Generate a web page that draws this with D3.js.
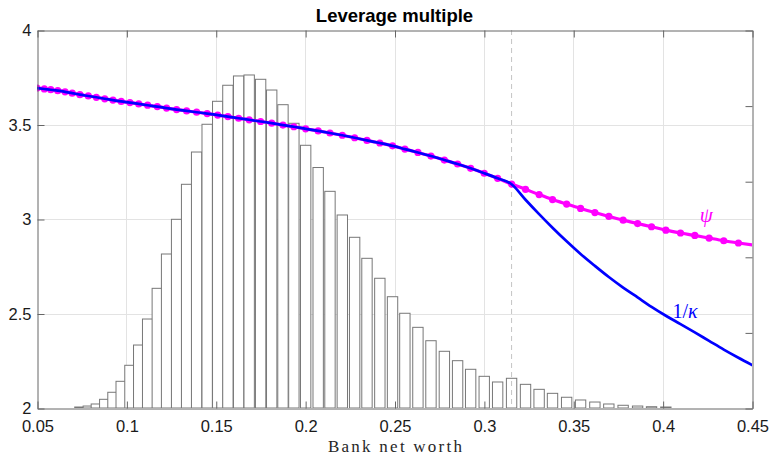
<!DOCTYPE html>
<html>
<head>
<meta charset="utf-8">
<script src="https://cdn.jsdelivr.net/npm/d3@7"></script>
<style>
  body { margin: 0; background: #fff; }
  svg { display: block; }
</style>
</head>
<body>
<svg id="view" width="771" height="456"></svg>
<script>
// grid of bank net worth values (the solution grid, non uniform)
var grid = [0.0500, 0.0541, 0.0577, 0.0616, 0.0657, 0.0697, 0.0740, 0.0787, 0.0832, 0.0879,
	0.0925, 0.0971, 0.1020, 0.1069, 0.1119, 0.1173, 0.1225, 0.1281, 0.1337, 0.1393,
	0.1452, 0.1511, 0.1568, 0.1628, 0.1687, 0.1751, 0.1813, 0.1876, 0.1937, 0.2003,
	0.2073, 0.2139, 0.2208, 0.2277, 0.2346, 0.2418, 0.2489, 0.2558, 0.2631, 0.2704,
	0.2779, 0.2853, 0.2926, 0.3002, 0.3077, 0.3155, 0.3233, 0.3309, 0.3384, 0.3463,
	0.3541, 0.3621, 0.3699, 0.3779, 0.3860, 0.3938, 0.4018, 0.4100, 0.4180, 0.4260,
	0.4342, 0.4424, 0.4506];

// psi (magenta, with markers)
var psi = [3.693, 3.688, 3.684, 3.679, 3.673, 3.666, 3.658, 3.651, 3.644, 3.636,
	3.629, 3.622, 3.616, 3.609, 3.602, 3.595, 3.587, 3.579, 3.572, 3.565,
	3.558, 3.550, 3.542, 3.533, 3.525, 3.516, 3.507, 3.497, 3.488, 3.477,
	3.466, 3.455, 3.443, 3.430, 3.416, 3.402, 3.387, 3.370, 3.352, 3.333,
	3.312, 3.291, 3.268, 3.242, 3.215, 3.185, 3.157, 3.129, 3.103, 3.079,
	3.056, 3.034, 3.014, 2.994, 2.976, 2.959, 2.941, 2.926, 2.913, 2.899,
	2.885, 2.873, 2.862];

// 1/kappa (blue)
var invKappa = [3.693, 3.688, 3.684, 3.679, 3.673, 3.666, 3.658, 3.651, 3.644, 3.636,
	3.629, 3.622, 3.616, 3.609, 3.602, 3.595, 3.587, 3.579, 3.572, 3.565,
	3.558, 3.550, 3.542, 3.533, 3.525, 3.516, 3.507, 3.497, 3.488, 3.477,
	3.466, 3.455, 3.443, 3.430, 3.416, 3.402, 3.387, 3.370, 3.352, 3.333,
	3.312, 3.291, 3.268, 3.242, 3.215, 3.184, 3.102, 3.026, 2.954, 2.882,
	2.815, 2.752, 2.693, 2.637, 2.585, 2.535, 2.488, 2.444, 2.400, 2.355,
	2.309, 2.266, 2.225];

// stationary density on the grid (right axis, unlabelled)
var density = [0, 0, 0, 0, 0, 0, 0.013, 0.026, 0.053, 0.115,
	0.208, 0.353, 0.565, 0.833, 1.177, 1.583, 2.037, 2.496, 2.959, 3.386,
	3.753, 4.057, 4.269, 4.392, 4.405, 4.348, 4.206, 4.012, 3.766, 3.475,
	3.181, 2.866, 2.553, 2.258, 1.980, 1.716, 1.472, 1.253, 1.067, 0.890,
	0.750, 0.626, 0.512, 0.419, 0.344, 0.393, 0.313, 0.247, 0.194, 0.142,
	0.106, 0.079, 0.053, 0.036, 0.026, 0.017, 0.013, 0, 0, 0,
	0, 0, 0];

var barWidth = 0.0058;
var constraintStart = 0.3155;

var xTicks = [0.05, 0.1, 0.15, 0.2, 0.25, 0.3, 0.35, 0.4, 0.45];
var yTicks = [2, 2.5, 3, 3.5, 4];
var rightTicks = [0, 1, 2, 3, 4, 5];

var view = d3.select('svg#view');

var x = d3.scaleLinear().domain([0.05, 0.45]).range([37, 752]);
var y = d3.scaleLinear().domain([2, 4]).range([408, 30]);
var yR = d3.scaleLinear().domain([0, 5]).range([408, 30]);

var points = grid.map(function(g, i) {
	return { x: g, psi: psi[i], k: invKappa[i], d: density[i] };
});

view.append('clipPath').attr('id', 'plotClip')
	.append('rect').attr('x', 37).attr('y', 30).attr('width', 715).attr('height', 378);

// grid lines
var gridG = view.append('g').attr('transform', 'translate(0.5,0.5)');
gridG.selectAll('line.gx').data(xTicks.slice(1, -1)).enter().append('line')
	.attr('x1', function(d) { return Math.round(x(d)); })
	.attr('x2', function(d) { return Math.round(x(d)); })
	.attr('y1', 30).attr('y2', 408)
	.attr('stroke', '#e3e3e3');
gridG.selectAll('line.gy').data(yTicks.slice(1, -1)).enter().append('line')
	.attr('y1', function(d) { return Math.round(y(d)); })
	.attr('y2', function(d) { return Math.round(y(d)); })
	.attr('x1', 37).attr('x2', 752)
	.attr('stroke', '#e3e3e3');

var plot = view.append('g').attr('clip-path', 'url(#plotClip)');

// histogram bars
plot.append('g').selectAll('rect')
	.data(points.filter(function(p) { return p.d > 0; }))
	.enter().append('rect')
	.attr('x', function(p) { return x(p.x - barWidth / 2); })
	.attr('width', function(p) { return x(p.x + barWidth / 2) - x(p.x - barWidth / 2); })
	.attr('y', function(p) { return yR(p.d); })
	.attr('height', function(p) { return yR(0) - yR(p.d); })
	.attr('fill', '#fff')
	.attr('stroke', '#777')
	.attr('stroke-width', 1);

// where the constraint starts to bind
plot.append('line')
	.attr('x1', x(constraintStart)).attr('x2', x(constraintStart))
	.attr('y1', 30).attr('y2', 408)
	.attr('stroke', '#c4c4c4').attr('stroke-width', 1)
	.attr('stroke-dasharray', '5,4');

var psiLine = d3.line().curve(d3.curveMonotoneX)
	.x(function(p) { return x(p.x); }).y(function(p) { return y(p.psi); });
var kLine = d3.line().curve(d3.curveMonotoneX)
	.x(function(p) { return x(p.x); }).y(function(p) { return y(p.k); });

plot.append('path').attr('d', psiLine(points))
	.attr('fill', 'none').attr('stroke', '#ff00ff').attr('stroke-width', 3.2);
plot.append('g').selectAll('circle')
	.data(points.filter(function(p) { return p.x <= 0.45; }))
	.enter().append('circle')
	.attr('cx', function(p) { return x(p.x); })
	.attr('cy', function(p) { return y(p.psi); })
	.attr('r', 3.6)
	.attr('fill', '#ff00ff');

plot.append('path').attr('d', kLine(points))
	.attr('fill', 'none').attr('stroke', '#0000ff').attr('stroke-width', 2.7);

// axes
var axisColor = '#666';
var fmt = function(d) { return String(d); };

var xAxis = view.append('g').attr('transform', 'translate(0.5,408.5)')
	.call(d3.axisBottom(x).tickValues(xTicks).tickFormat(fmt).tickSize(-7).tickSizeOuter(0).tickPadding(12));
var xAxisTop = view.append('g').attr('transform', 'translate(0.5,30.5)')
	.call(d3.axisTop(x).tickValues(xTicks).tickFormat('').tickSize(-7).tickSizeOuter(0));
var yAxis = view.append('g').attr('transform', 'translate(37.5,0.5)')
	.call(d3.axisLeft(y).tickValues(yTicks).tickFormat(fmt).tickSize(-7).tickSizeOuter(0).tickPadding(6));
var yAxisR = view.append('g').attr('transform', 'translate(752.5,0.5)')
	.call(d3.axisRight(yR).tickValues(rightTicks).tickFormat('').tickSize(-7).tickSizeOuter(0));

[xAxis, xAxisTop, yAxis, yAxisR].forEach(function(a) {
	a.selectAll('path.domain').attr('stroke', axisColor);
	a.selectAll('.tick line').attr('stroke', axisColor);
	a.selectAll('text')
		.attr('font-family', 'Liberation Sans, Arial, sans-serif')
		.attr('font-size', 16.5)
		.attr('fill', '#1a1a1a');
});

// title and labels
view.append('text')
	.attr('x', 394.5).attr('y', 22)
	.attr('text-anchor', 'middle')
	.attr('font-family', 'Liberation Sans, Arial, sans-serif')
	.attr('font-weight', 'bold').attr('font-size', 18.5)
	.attr('fill', '#000')
	.text('Leverage multiple');

view.append('text')
	.attr('x', 328).attr('y', 452)
	.attr('font-family', 'Liberation Serif, serif')
	.attr('font-size', 17)
	.attr('textLength', 134).attr('lengthAdjust', 'spacing')
	.attr('fill', '#262626')
	.text('Bank net worth');

view.append('text')
	.attr('x', x(0.4208)).attr('y', y(2.984))
	.attr('font-family', 'Liberation Serif, serif')
	.attr('font-style', 'italic').attr('font-size', 21)
	.attr('fill', '#ff00ff')
	.text('ψ');

var kLabel = view.append('text')
	.attr('x', x(0.4055)).attr('y', y(2.476))
	.attr('font-family', 'Liberation Serif, serif')
	.attr('font-size', 20)
	.attr('fill', '#0000ff');
kLabel.append('tspan').text('1/');
kLabel.append('tspan').attr('font-style', 'italic').text('κ');
</script>
</body>
</html>
